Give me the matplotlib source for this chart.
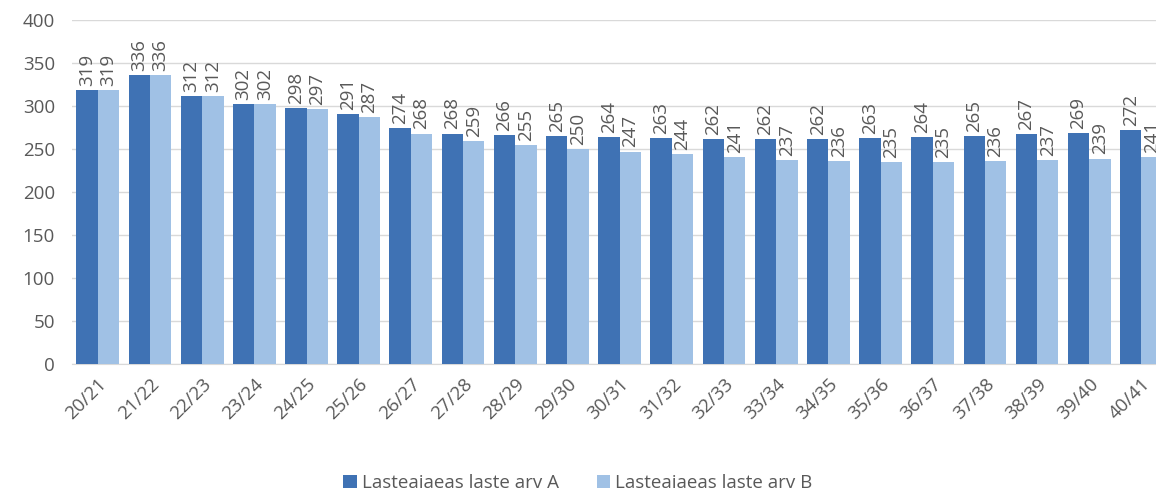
import numpy as np
import matplotlib.pyplot as plt

plt.rcParams['font.family'] = ['Open Sans', 'DejaVu Sans']

# Data
years = ['20/21', '21/22', '22/23', '23/24', '24/25', '25/26', '26/27', '27/28',
         '28/29', '29/30', '30/31', '31/32', '32/33', '33/34', '34/35', '35/36',
         '36/37', '37/38', '38/39', '39/40', '40/41']
arv_a = [319, 336, 312, 302, 298, 291, 274, 268, 266, 265, 264, 263, 262, 262,
         262, 263, 264, 265, 267, 269, 272]
arv_b = [319, 336, 312, 302, 297, 287, 268, 259, 255, 250, 247, 244, 241, 237,
         236, 235, 235, 236, 237, 239, 241]
labels = ['Lasteaiaeas laste arv A', 'Lasteaiaeas laste arv B']

col_a = '#3F72B4'
col_b = '#A0C1E5'
txt = '#595959'

fig = plt.figure(figsize=(11.56, 4.93), dpi=100)
ax = fig.add_axes([0.062, 0.262, 0.948, 0.697])

x = np.arange(len(years))
w = 0.41
bars_a = ax.bar(x - w / 2, arv_a, w, color=col_a, label=labels[0], zorder=3)
bars_b = ax.bar(x + w / 2, arv_b, w, color=col_b, label=labels[1], zorder=3)

for bars in (bars_a, bars_b):
    ax.bar_label(bars, padding=3, rotation=90, fontsize=13.5, color=txt)

ax.set_xlim(-0.5, len(years) - 0.5)
ax.set_ylim(0, 400)
ax.set_yticks(np.arange(0, 401, 50))
ax.grid(axis='y', color='#D9D9D9', linewidth=1, zorder=0)

for s in ['top', 'right', 'left']:
    ax.spines[s].set_visible(False)
ax.spines['bottom'].set_color('#D9D9D9')

ax.set_xticks(x)
ax.set_xticklabels(years, rotation=45, ha='right', rotation_mode='anchor')
ax.tick_params(axis='both', length=0, labelsize=13.5, labelcolor=txt)
ax.tick_params(axis='x', pad=8)
ax.tick_params(axis='y', pad=12)

fig.legend(handles=[bars_a, bars_b], labels=labels, loc='center',
           bbox_to_anchor=(0.5, 0.02), ncol=2, frameon=False, fontsize=13.5,
           handlelength=0.7, handleheight=0.7, handletextpad=0.3,
           columnspacing=2.0, labelcolor=txt)

plt.savefig('out.png', dpi=100)
